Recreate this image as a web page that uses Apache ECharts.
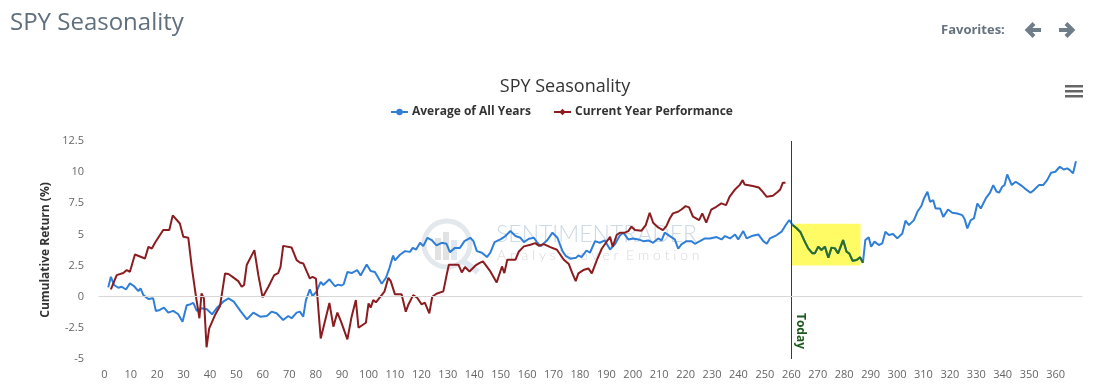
<!DOCTYPE html>
<html>
<head>
<meta charset="utf-8">
<script src="https://cdn.jsdelivr.net/npm/echarts@6/dist/echarts.min.js"></script>
<style>
  html, body { margin: 0; padding: 0; background: #fff; }
  #chart { width: 1105px; height: 386px; }
</style>
</head>
<body>
<div id="chart"></div>
<script>
// ---- data ----
const xTicks = [0,10,20,30,40,50,60,70,80,90,100,110,120,130,140,150,160,170,180,190,200,210,220,230,240,250,260,270,280,290,300,310,320,330,340,350,360];

const avgDays = [1.5,2.5,3.7,5.3,6.6,8.2,9.7,11.2,12.9,13.7,14.8,16.7,18.5,19.5,21,22.6,24.2,26.1,28,29.6,31.2,32.4,33.7,35,36.9,38.8,40.8,42.5,45,47,49,51.5,54,56.4,59,61.5,63.3,65.2,67.7,69.6,70.9,72.8,74,75.3,76.3,77.8,78.8,80.3,81.9,82.9,85.2,87.3,88.5,89.8,90.6,92,93.6,95.7,97,99.3,100.8,102.4,105,106.6,107.9,109.3,110,111.9,113.8,115.7,116.7,118,119.5,120.7,122.3,123.9,125.7,127.7,129.5,130.8,132.7,134.6,136.3,138.5,139.7,141,142.9,144.8,146.1,147.7,149.9,151.8,153.7,155.6,157.5,158.8,160.7,162.6,163.9,165.1,167.7,169.6,171.5,173.4,174.7,176.4,178.5,179.4,180.6,182.5,183.8,185.7,187.5,189.4,191.4,193.2,195.1,196.4,198.3,200.2,202.1,204,205.9,207.7,209.6,210.9,212.1,214,215.9,217.2,218.4,220.3,222.2,223.5,225.4,227.3,229.2,231.7,233.6,234.9,236.8,238.7,239.9,241.8,243.1,245,247.5,249.4,250.7,251.9,254.5,256.3,258,259.2,260.5,262,263.5,265.1,266.4,268,268.9,270.2,271.4,272.7,274,275.2,276.5,277.7,279.6,280.9,281.9,283.2,284.7,286,287.1,288,289.3,290.2,291.5,293.1,294.4,295.6,296.9,298.5,300.1,302,303.2,304.5,306.4,307.7,309.2,310.2,311.5,312.5,313.7,314.6,316.3,317.5,319.3,320.9,322.8,324.7,325.6,326.6,327.9,329.1,330.4,331.7,333.6,335.2,336.4,337.7,338.6,339.8,340.7,341.7,343.4,344.9,346.8,348.3,350.5,351.8,353.7,355.3,356.8,358.3,359.9,361.6,363.1,364.4,365.4,366.6,367.7];
const avgValues = [0.75,1.6,0.94,0.72,0.8,0.58,1.07,0.86,0.45,0.67,0.13,-0.19,-0.13,-1.14,-1.06,-0.88,-1.28,-1.14,-1.41,-2.0,-0.68,-0.62,-0.49,-1.14,-0.93,-1.01,-1.41,-0.93,-0.4,-0.13,-0.4,-1.14,-1.81,-1.28,-1.6,-1.55,-1.2,-1.33,-1.87,-1.55,-1.73,-1.28,-1.2,-1.6,-0.27,0.59,0.05,0.4,1.2,0.94,1.4,0.84,0.97,0.9,1.0,1.99,1.9,2.14,1.71,2.59,2.06,1.98,1.04,1.52,2.3,3.3,2.92,3.37,3.66,3.6,3.92,3.79,4.33,4.06,4.73,4.55,4.12,4.33,4.25,3.58,3.92,3.92,4.46,4.73,4.46,3.66,3.53,3.18,3.53,4.38,4.6,4.87,5.27,4.87,4.73,4.38,4.65,4.73,4.33,4.06,4.55,5.14,4.73,3.66,3.26,3.05,3.12,3.31,3.18,3.71,3.53,4.46,4.33,4.52,3.79,4.2,4.92,5.14,4.6,4.68,4.6,4.46,4.52,4.33,4.68,4.52,5.14,4.87,4.6,3.85,4.2,4.46,4.46,4.25,4.46,4.68,4.68,4.79,4.6,4.87,4.68,5.0,4.6,5.27,4.68,4.87,5.0,4.46,4.25,4.68,4.95,5.22,5.8,6.16,5.75,5.49,5.17,4.42,3.88,3.48,3.48,4.02,3.75,4.02,3.13,3.94,3.88,3.48,4.55,3.61,3.48,2.89,2.94,3.16,2.73,4.55,4.76,4.02,4.42,4.15,4.28,5.21,4.95,5.03,4.68,5.08,6.1,5.75,6.15,6.82,7.28,7.89,8.43,7.62,7.75,7.08,7.08,6.41,7.0,6.74,6.68,6.55,6.21,5.48,6.15,6.28,7.48,7.08,7.89,8.35,8.96,8.43,8.35,8.83,8.96,9.82,8.96,9.23,8.96,8.7,8.35,8.56,8.96,8.96,9.36,9.95,10.03,10.43,10.21,10.3,10.16,9.9,10.88];

const curDays = [2.5,4.7,7.2,8.5,9.7,11.6,15.4,16.7,18,19.2,22.3,24.6,25.9,28.6,29.9,31.8,33.1,34.7,36,36.8,37.7,38.7,39.7,41.9,43.8,45.7,47,48.8,50.7,52,52.9,53.9,56.8,58.3,59.9,62.1,64.3,65.8,66.7,67.7,70.9,72.8,74,75.3,77.8,78.8,80.1,81.9,85.2,86.7,87.4,88.2,89.6,92,93.6,95.2,96.2,99,100,100.8,101.8,102.8,106,107.5,108.4,110,112.5,114.1,115,116.9,118.4,120.1,121.3,123,124.1,125.7,128.3,129.5,130.4,134,135.3,136.5,138.2,140.4,141.9,143.3,146.1,148.5,150.5,151.4,152.5,155.6,156.9,158.8,161.3,163.1,164.4,166.3,168.8,171.3,173.9,175.8,177.1,178.4,179.4,181.3,183.2,184.5,186.4,188.3,190.1,191.4,192.4,193.9,195.1,197,198.3,199.5,200.8,203.3,204.9,206.4,207.7,209.6,211.4,212.7,214,215.2,217.1,218.4,220,221.3,222.8,225.1,226.3,227.8,229.7,231.6,233.5,235.3,236.6,238.5,240.4,241.6,242.3,245.4,247.7,249.2,250.7,253,254.9,255.8,256.8,257.8];
const curValues = [0.58,1.73,1.9,2.14,2.0,3.39,3.07,4.0,3.87,4.33,5.35,5.35,6.53,5.88,4.81,4.73,2.4,0.0,-1.73,0.27,-0.13,-4.06,-2.54,-1.47,-0.75,1.87,1.82,1.55,1.25,0.8,0.94,2.54,3.74,1.73,-0.05,0.8,1.73,1.9,2.4,4.08,3.95,2.94,2.75,2.67,1.46,1.6,1.46,-3.35,-0.5,-2.4,-2.54,-1.27,-2.0,-3.43,-1.6,-0.27,-2.49,-2.09,-0.53,-0.88,-0.27,-0.45,0.4,1.52,1.25,0.19,0.19,-1.2,-0.67,0.13,-0.08,-0.61,-0.48,-1.33,0.0,0.24,0.43,1.68,2.57,2.57,1.95,2.38,2.03,2.49,2.7,2.84,2.03,1.15,2.43,1.9,2.97,2.97,3.63,4.04,4.17,4.3,4.09,4.22,3.98,3.77,2.97,2.62,1.9,1.25,1.87,2.14,2.27,1.87,2.94,3.87,4.41,4.81,4.01,4.95,5.14,5.14,5.27,5.62,5.35,5.3,5.75,6.74,5.94,5.56,5.35,5.67,6.28,6.69,6.82,7.0,7.27,7.17,6.42,6.15,6.69,5.94,7.0,7.22,7.49,7.35,8.02,8.56,8.96,9.36,9.01,8.88,8.77,8.42,8.02,8.1,8.42,8.61,9.15,9.15];

const todayDay = 260;
const segmentEndDay = 287.1;
const highlightRange = { start: 260, end: 286.2, low: 2.5, high: 5.85 };
const yMin = -5, yMax = 12.5, yStep = 2.5;
const xMin = -2, xMax = 370;

// ---- build series ----
const avgData = avgDays.map((d, i) => [d, avgValues[i]]);
const curData = curDays.map((d, i) => [d, curValues[i]]);
const segData = avgData.filter(p => p[0] >= todayDay && p[0] <= segmentEndDay);

const FONT = '"Open Sans", "Noto Sans", sans-serif';
const chart = echarts.init(document.getElementById('chart'), null, { renderer: 'canvas' });

chart.setOption({
  animation: false,
  backgroundColor: '#ffffff',
  textStyle: { fontFamily: FONT },
  title: {
    text: 'SPY Seasonality',
    left: 560,
    top: 73,
    textAlign: 'center',
    textStyle: { fontFamily: FONT, fontSize: 18, fontWeight: 'normal', color: '#333333' }
  },
  legend: {
    left: 385,
    top: 101,
    itemWidth: 17,
    itemHeight: 8,
    itemGap: 22,
    data: ['Average of All Years', 'Current Year Performance'],
    textStyle: { fontFamily: FONT, fontSize: 12, fontWeight: 'bold', color: '#333333', padding: [0, 0, 0, -1] }
  },
  grid: { left: 99, right: 23, top: 141, bottom: 27, containLabel: false },
  xAxis: {
    type: 'value',
    min: xMin,
    max: xMax,
    axisLine: { show: true, lineStyle: { color: '#ccd6eb', width: 1 } },
    axisTick: { show: false },
    splitLine: { show: false },
    axisLabel: {
      customValues: xTicks,
      margin: 10,
      fontSize: 11,
      color: '#666666',
      fontFamily: FONT
    }
  },
  yAxis: {
    type: 'value',
    min: yMin,
    max: yMax,
    interval: yStep,
    name: 'Cumulative Return (%)',
    nameLocation: 'middle',
    nameGap: 41,
    nameTextStyle: { fontFamily: FONT, fontSize: 12, fontWeight: 'bold', color: '#333333' },
    axisLine: { show: false },
    axisTick: { show: false },
    splitLine: { show: false },
    axisLabel: { margin: 15, fontSize: 11, color: '#666666', fontFamily: FONT }
  },
  graphic: [
    { type: 'text', left: 10, top: 11, z: 10,
      style: { text: 'SPY Seasonality', font: '24px "Open Sans", sans-serif', fill: '#5f6f7e' } },
    { type: 'text', left: 941, top: 24, z: 10,
      style: { text: 'Favorites:', font: 'bold 13px "Open Sans", sans-serif', fill: '#66737f' } },
    { type: 'polyline', z: 10, shape: { points: [[1041, 30], [1027, 30]] }, style: { stroke: '#6f7d89', lineWidth: 4 } },
    { type: 'polyline', z: 10, shape: { points: [[1034, 23.5], [1027.5, 30], [1034, 36.5]] }, style: { stroke: '#6f7d89', lineWidth: 4, fill: null } },
    { type: 'polyline', z: 10, shape: { points: [[1059, 30], [1073, 30]] }, style: { stroke: '#6f7d89', lineWidth: 4 } },
    { type: 'polyline', z: 10, shape: { points: [[1066, 23.5], [1072.5, 30], [1066, 36.5]] }, style: { stroke: '#6f7d89', lineWidth: 4, fill: null } },
    { type: 'rect', z: 10, shape: { x: 1065, y: 85, width: 18, height: 2.5 }, style: { fill: '#666666' } },
    { type: 'rect', z: 10, shape: { x: 1065, y: 90, width: 18, height: 2.5 }, style: { fill: '#666666' } },
    { type: 'rect', z: 10, shape: { x: 1065, y: 95, width: 18, height: 2.5 }, style: { fill: '#666666' } },
    // watermark
    { type: 'circle', z: -1, shape: { cx: 447, cy: 244, r: 23 }, style: { stroke: '#dfe5ea', lineWidth: 5, fill: null, opacity: 0.9 } },
    { type: 'rect', z: -1, shape: { x: 435, y: 238, width: 6, height: 22 }, style: { fill: '#e2e2e2' } },
    { type: 'rect', z: -1, shape: { x: 443, y: 232, width: 6, height: 28 }, style: { fill: '#e2e2e2' } },
    { type: 'rect', z: -1, shape: { x: 451, y: 240, width: 6, height: 20 }, style: { fill: '#dfe8f0' } },
    { type: 'polyline', z: -1, shape: { points: [[463, 261], [478, 272]] }, style: { stroke: '#dfe8f0', lineWidth: 6 } },
    { type: 'text', left: 496, top: 223, z: -1,
      style: { text: 'SENTIMENTRADER', font: '300 23px Lato, "Open Sans", sans-serif', fill: '#cdd9e5' } },
    { type: 'text', left: 497, top: 248, z: -1,
      style: { text: 'A n a l y s i s  o v e r  E m o t i o n', font: '300 14px Lato, "Open Sans", sans-serif', fill: '#d9d9d9' } }
  ],
  series: [
    {
      name: 'Average of All Years',
      type: 'line',
      data: avgData,
      symbol: 'circle',
      symbolSize: 7,
      showSymbol: false,
      lineStyle: { color: '#2f7ed8', width: 2 },
      itemStyle: { color: '#2f7ed8' },
      z: 3,
      markArea: {
        silent: true,
        itemStyle: { color: '#fefb64' },
        data: [[
          { coord: [highlightRange.start, highlightRange.high] },
          { coord: [highlightRange.end, highlightRange.low] }
        ]]
      },
      markLine: {
        silent: true,
        symbol: ['none', 'none'],
        lineStyle: { color: '#1f4d1f', width: 1, type: 'solid' },
        label: {
          show: true,
          formatter: 'Today',
          position: 'insideEndTop',
          distance: 3,
          padding: [0, 7, 0, 0],
          color: '#1d5a1d',
          fontWeight: 'bold',
          fontSize: 12,
          fontFamily: FONT
        },
        data: [[
          { coord: [todayDay, yMax] },
          { coord: [todayDay, yMin] }
        ]]
      }
    },
    {
      name: 'Current Year Performance',
      type: 'line',
      data: curData,
      symbol: 'diamond',
      symbolSize: 8,
      showSymbol: false,
      lineStyle: { color: '#8b1c1f', width: 2 },
      itemStyle: { color: '#8b1c1f' },
      z: 3,
      markLine: {
        silent: true,
        symbol: ['none', 'none'],
        lineStyle: { color: '#d8d8d8', width: 1, type: 'solid' },
        label: { show: false },
        data: [{ yAxis: 0 }]
      }
    },
    {
      name: 'Today segment',
      type: 'line',
      data: segData,
      showSymbol: false,
      lineStyle: { color: '#2d6e27', width: 2 },
      itemStyle: { color: '#2d6e27' },
      z: 4
    }
  ]
});
</script>
</body>
</html>
